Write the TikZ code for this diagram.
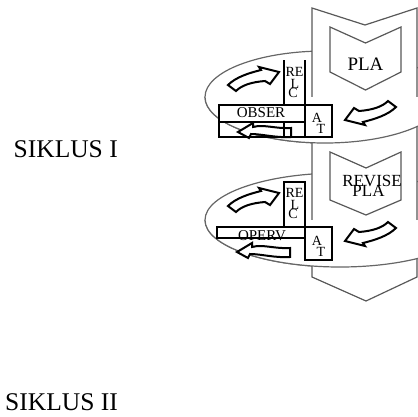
\documentclass[tikz,border=0pt]{standalone}
\usepackage{fontspec}
\setmainfont{Liberation Serif}
\begin{document}
\begin{tikzpicture}[x=1pt,y=1pt,
  ringline/.style={draw=black!60, line width=1.2pt},
  bandline/.style={draw=black!65, line width=1.2pt, line join=miter},
  boxline/.style={draw=black, line width=2pt},
  swoosh/.style={draw=black, line width=2pt, fill=white, line join=miter},
  arrA/.pic={\path[swoosh] (0,0) -- (-20,5) -- (-18,2)
      .. controls (-30,-1) and (-43,-5) .. (-51,-13) -- (-43,-19)
      .. controls (-37,-13) and (-27,-10) .. (-14,-9) -- (-9,-12) -- cycle;},
  arrC/.pic={\path[swoosh] (0,0) -- (15,9) -- (15,5)
      .. controls (26,8) and (38,3) .. (53,4) -- (53,-5)
      .. controls (38,-6) and (24,-2) .. (13,-2) -- (11,-6) -- cycle;},
  lbl/.style={inner sep=0pt, anchor=base, font=\fontsize{14}{14}\selectfont},
  wide/.style={inner sep=0pt, anchor=base, font=\fontsize{15}{15}\selectfont},
  title/.style={inner sep=0pt, anchor=base east, font=\fontsize{25.5}{25.5}\selectfont}
]
\useasboundingbox (0,0) rectangle (418,-416);
\clip (0,0) rectangle (418,-416);

% the two rings, whole
\draw[ringline, fill=white] (325,-97) ellipse [x radius=120, y radius=46];
\draw[ringline, fill=white] (340,-220) ellipse [x radius=135, y radius=47];

% the column with its two chevrons
\draw[bandline, fill=white] (312,-8) -- (365,-25) -- (417,-8) -- (417,-277)
  -- (366,-301) -- (312,-277) -- cycle;
\draw[bandline] (330,-27) -- (365.5,-43) -- (401,-27) -- (401,-72)
  -- (365.5,-90) -- (330,-72) -- cycle;
\draw[bandline] (330,-152) -- (366,-168) -- (401,-152) -- (401,-200)
  -- (366,-215) -- (330,-200) -- cycle;

% front halves of the rings pass in front of the column
\fill[white] (205,-97) arc[start angle=180, end angle=360, x radius=120, y radius=46] -- cycle;
\draw[ringline] (205,-97) arc[start angle=180, end angle=360, x radius=120, y radius=46];
\fill[white] (205,-220) arc[start angle=180, end angle=360, x radius=135, y radius=47] -- cycle;
\draw[ringline] (205,-220) arc[start angle=180, end angle=360, x radius=135, y radius=47];

% cycle I
\pic at (279,-72) {arrA};
\pic[rotate=180] at (345,-120) {arrA};
\pic at (238,-132) {arrC};
\draw[boxline] (284,-60) -- (284,-137);
\draw[boxline] (305,-60) -- (305,-137);
\draw[boxline, fill=white] (219,-105) rectangle (305,-122);
\draw[boxline] (219,-105) rectangle (332,-137);
\node[lbl] (re1) at (294.5,-76) {RE};
\node[lbl] (l1) at (295,-88) {L};
\node[lbl] (c1) at (293,-97) {C};
\node[wide] (obs) at (261,-117) {OBSER};
\node[lbl] (a1) at (317,-122) {A};
\node[lbl] (t1) at (321,-133) {T};

% cycle II
\pic at (279,-193) {arrA};
\pic[rotate=180] at (345,-241) {arrA};
\pic at (237,-252) {arrC};
\draw[boxline] (284,-182) rectangle (305,-227);
\draw[boxline, fill=white] (217,-227) rectangle (305,-238);
\draw[boxline] (305,-227) rectangle (332,-260);
\node[lbl] (re2) at (294.5,-197) {RE};
\node[lbl] (l2) at (295,-209) {L};
\node[lbl] (c2) at (293,-218) {C};
\node[wide] (opv) at (262,-240) {OPERV};
\node[lbl] (a2) at (317,-245) {A};
\node[lbl] (t2) at (321,-256) {T};

% chevron labels
\node[inner sep=0pt, anchor=base, font=\fontsize{19}{19}\selectfont] (pla1) at (365.5,-70) {PLA};
\node[inner sep=0pt, anchor=base, font=\fontsize{17}{17}\selectfont] (rev) at (372,-186) {REVISE};
\node[inner sep=0pt, anchor=base, font=\fontsize{17}{17}\selectfont] (pla2) at (368.5,-196) {PLA};

% cycle titles
\node[title] (s1) at (118,-157) {SIKLUS I};
\node[title] (s2) at (118,-410.5) {SIKLUS II};
\end{tikzpicture}
\end{document}
